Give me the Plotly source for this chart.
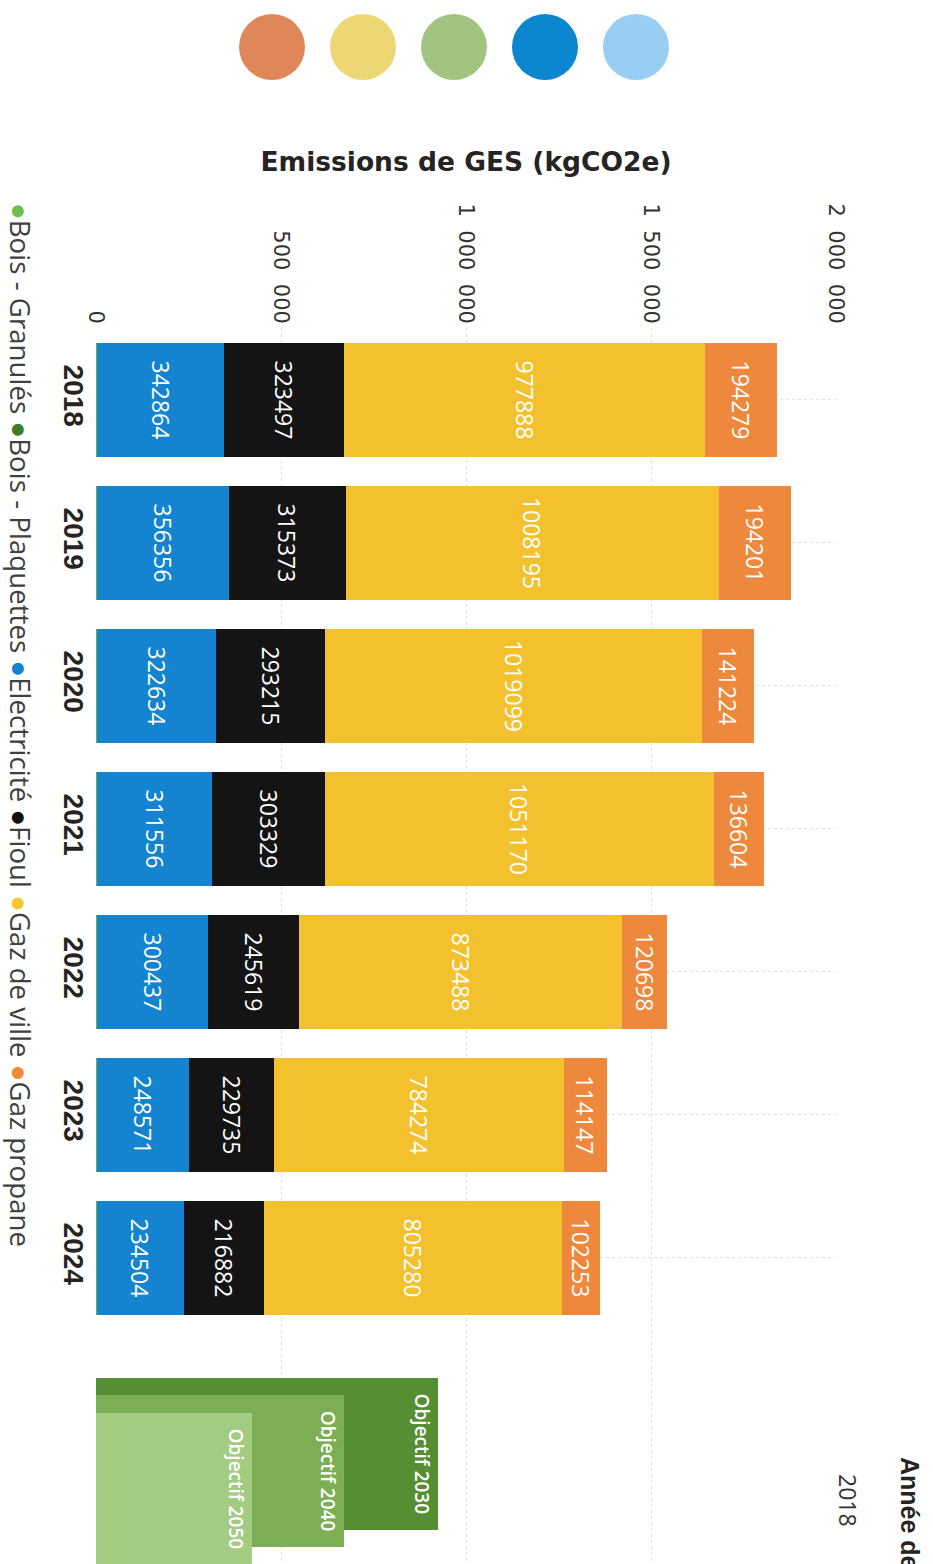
import plotly.graph_objects as go

# ---------------- data ----------------
years = ["2018", "2019", "2020", "2021", "2022", "2023", "2024"]
bois_granules = [3000, 3000, 3000, 3000, 3000, 3000, 3000]
bois_plaquettes = [0, 0, 0, 0, 0, 0, 0]
electricite = [342864, 356356, 322634, 311556, 300437, 248571, 234504]
fioul = [323497, 315373, 293215, 303329, 245619, 229735, 216882]
gaz_de_ville = [977888, 1008195, 1019099, 1051170, 873488, 784274, 805280]
gaz_propane = [194279, 194201, 141224, 136604, 120698, 114147, 102253]

objectif_labels = ["Objectif 2030", "Objectif 2040", "Objectif 2050"]
objectif_values = [924000, 670000, 422000]

value_tickvals = [0, 500000, 1000000, 1500000, 2000000]
value_ticklabels = ["0", "500\u2007000", "1\u2007000\u2007000", "1\u2007500\u2007000", "2\u2007000\u2007000"]

deco_colors = ["#E0875A", "#EDD774", "#A3C481", "#0B86CF", "#99CDF2"]

# ---------------- layout helpers ----------------
W, H = 933, 1564
def fx(px):
    return px / W
def fy(py):
    return 1 - py / H

series = [
    ("Bois - Granulés", bois_granules, "#6AB446", False),
    ("Bois - Plaquettes", bois_plaquettes, "#3E7D2B", False),
    ("Electricité", electricite, "#1484D0", True),
    ("Fioul", fioul, "#141414", True),
    ("Gaz de ville", gaz_de_ville, "#F3C12D", True),
    ("Gaz propane", gaz_propane, "#EE883C", True),
]

fig = go.Figure()
ypos = list(range(len(years)))
for name, vals, color, labelled in series:
    if labelled:
        kw = dict(text=[str(v) for v in vals], texttemplate="%{text}",
                  textposition="inside", insidetextanchor="middle", textangle=90,
                  textfont=dict(family="Open Sans", size=23, color="white"),
                  constraintext="none")
    else:
        kw = dict(textposition="none")
    fig.add_trace(go.Bar(name=name, y=ypos, x=vals, orientation="h", width=0.8,
                         marker=dict(color=color, line=dict(width=0)),
                         showlegend=False, xaxis="x", yaxis="y", **kw))

obj_colors = ["#558E33", "#7CAE53", "#A3CB82"]
obj_pos = [7.37, 7.49, 7.615]
for lab, val, pos, col in zip(objectif_labels, objectif_values, obj_pos, obj_colors):
    fig.add_trace(go.Bar(y=[pos], x=[val], orientation="h", width=1.063,
                         marker=dict(color=col, line=dict(width=0)),
                         text=[lab], texttemplate="%{text}", textposition="inside",
                         insidetextanchor="end", textangle=90, constraintext="none",
                         textfont=dict(family="Open Sans", size=19, color="white", weight=600),
                         showlegend=False, xaxis="x", yaxis="y"))

# decorative colour circles
fig.add_trace(go.Scatter(x=list(range(len(deco_colors))), y=[0] * len(deco_colors),
                         mode="markers", xaxis="x2", yaxis="y2", hoverinfo="skip",
                         marker=dict(size=66, color=deco_colors, line=dict(width=0)),
                         showlegend=False))

legend_colors = {"Bois - Granulés": "#6CBF4A", "Bois - Plaquettes": "#3E7D2B",
                 "Electricité": "#1484D0", "Fioul": "#111111",
                 "Gaz de ville": "#F5C833", "Gaz propane": "#F08A32"}
legend_text = " ".join(f'<span style="color:{legend_colors[s[0]]}">●</span>{s[0]}' for s in series)

grid = "#E0E0E0"
fig.update_layout(
    width=W, height=H, template="none", barmode="stack", showlegend=False,
    margin=dict(l=0, r=0, t=0, b=0),
    paper_bgcolor="white", plot_bgcolor="white",
    xaxis=dict(domain=[fx(96), fx(836)], range=[0, 2000000], side="top", anchor="y",
               tickvals=value_tickvals, ticktext=value_ticklabels, tickangle=90,
               tickfont=dict(family="DejaVu Sans", size=21, color="#333333"),
               ticks="", showline=False, zeroline=False, automargin=False,
               showgrid=True, gridcolor=grid, griddash="dot", gridwidth=1,
               title=dict(text="Emissions de GES (kgCO2e)", standoff=24,
                          font=dict(family="DejaVu Sans", size=26.5, color="#252423", weight="bold"))),
    yaxis=dict(domain=[0, fy(328)], range=[8.14, -0.503], anchor="x",
               tickvals=ypos, ticktext=years, tickangle=90, ticklabelstandoff=3,
               tickfont=dict(family="Liberation Sans", size=28, color="#252423", weight="bold"),
               ticks="", showline=False, zeroline=False, automargin=False,
               showgrid=True, gridcolor=grid, griddash="dot", gridwidth=1),
    xaxis2=dict(domain=[0, 1], range=[-272 / 91, (W - 272) / 91], visible=False, anchor="y2"),
    yaxis2=dict(domain=[fy(94), 1], range=[-1, 1], visible=False, anchor="x2"),
    annotations=[
        dict(text=legend_text, x=fx(21), y=fy(725), xref="paper", yref="paper",
             xanchor="center", yanchor="middle", textangle=90, showarrow=False,
             font=dict(family="Open Sans", size=27.7, color="#404040")),
        dict(text="Année de référence", x=fx(910), y=fy(1455), xref="paper", yref="paper",
             xanchor="center", yanchor="top", textangle=90, showarrow=False,
             font=dict(family="Liberation Sans", size=25, color="#252423", weight="bold")),
        dict(text="2018", x=fx(848), y=fy(1500), xref="paper", yref="paper",
             xanchor="center", yanchor="middle", textangle=90, showarrow=False,
             font=dict(family="Open Sans", size=23, color="#333333")),
    ],
)

fig.write_html("out.html", config={"displayModeBar": False},
               post_script="document.body.style.margin='0px';")
